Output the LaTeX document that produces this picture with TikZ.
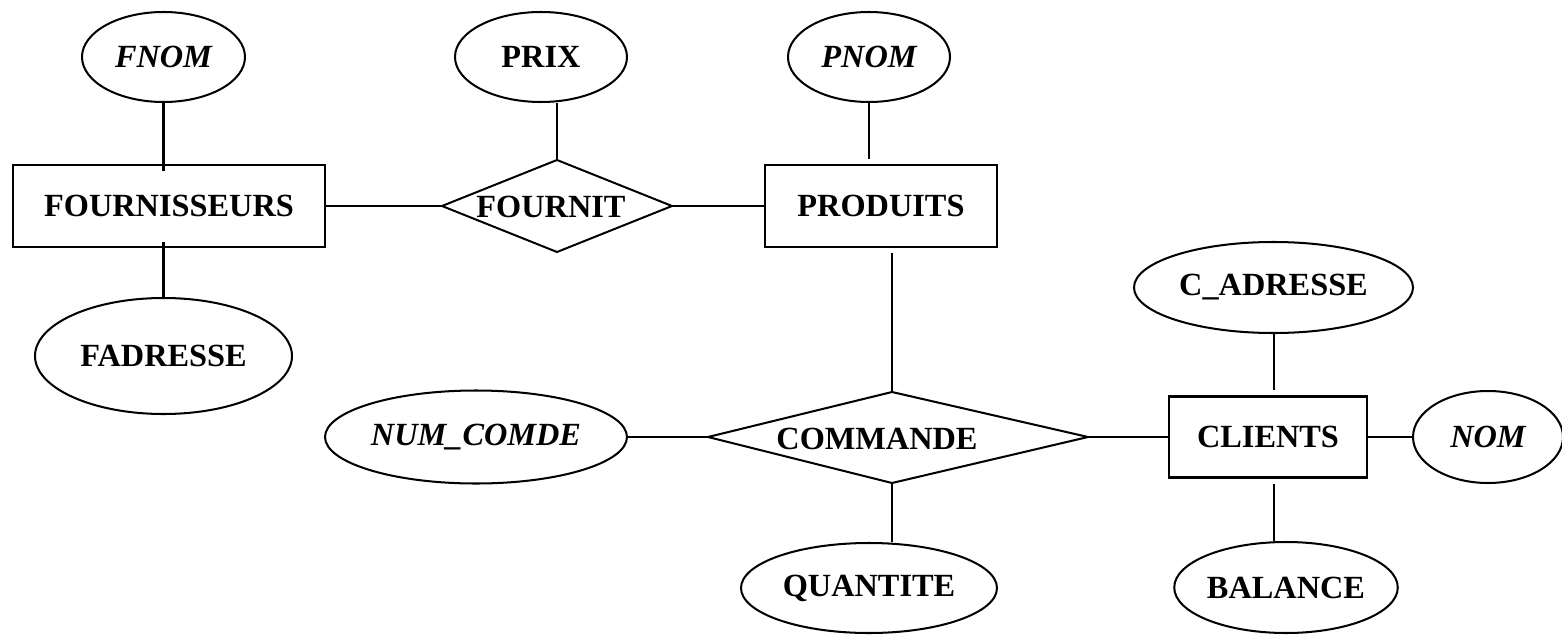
\documentclass[tikz,border=0pt]{standalone}
\usepackage{fontspec}
\setmainfont{Liberation Serif}
\usetikzlibrary{shapes.geometric}
\newdimen\pxu
\pxu=0.02cm
\begin{document}
\begin{tikzpicture}[x=0.02cm,y=-0.02cm,
  every node/.style={font=\fontsize{18.4pt}{22pt}\selectfont\bfseries, inner sep=0pt},
  entity/.style={draw, rectangle, line width=1.15pt},
  attr/.style={draw, ellipse, line width=1.15pt},
  key/.style={font=\fontsize{18.4pt}{22pt}\selectfont\bfseries\itshape},
  link/.style={line width=1.15pt},
  rel/.style={line width=1.15pt, line join=miter}]
\useasboundingbox (0,0) rectangle (1562,635);

% entities
\node[entity, minimum width=312\pxu, minimum height=82\pxu] (four) at (169,206) {FOURNISSEURS};
\node[entity, minimum width=232\pxu, minimum height=82\pxu] (prod) at (881,206) {PRODUITS};
\node[entity, minimum width=198\pxu, minimum height=81\pxu] (cli) at (1268,437) {CLIENTS};

% relationship FOURNIT
\coordinate (fn-w) at (442,206);
\coordinate (fn-n) at (557,160);
\coordinate (fn-e) at (672,206);
\coordinate (fn-s) at (557,252);
\draw[rel] (fn-w) -- (fn-n) -- (fn-e) -- (fn-s) -- cycle;
\node (fournit) at (551,207) {FOURNIT};

% relationship COMMANDE
\coordinate (cmd-w) at (708,437);
\coordinate (cmd-n) at (892,392);
\coordinate (cmd-e) at (1088,437);
\coordinate (cmd-s) at (892,483);
\draw[rel] (cmd-w) -- (cmd-n) -- (cmd-e) -- (cmd-s) -- cycle;
\node (commande) at (877,439) {COMMANDE};

% attributes
\node[attr, key, minimum width=163\pxu, minimum height=90\pxu] (fnom) at (163.5,57) {FNOM};
\node[attr, minimum width=172\pxu, minimum height=90\pxu] (prix) at (541,57) {PRIX};
\node[attr, key, minimum width=162\pxu, minimum height=90\pxu] (pnom) at (869,57) {PNOM};
\node[attr, minimum width=257\pxu, minimum height=116\pxu] (fadr) at (163.5,356) {FADRESSE};
\node[attr, key, minimum width=302\pxu, minimum height=93\pxu] (numc) at (476,437) {NUM\_COMDE};
\node[attr, minimum width=256\pxu, minimum height=90\pxu] (quant) at (869,588) {QUANTITE};
\node[attr, minimum width=279\pxu, minimum height=91\pxu] (cadr) at (1273.5,287.5) {C\_ADRESSE};
\node[attr, minimum width=208\pxu, minimum height=91\pxu] (bal) at (1286,587.5) {BALANCE};
\node[attr, key, minimum width=150\pxu, minimum height=92\pxu] (nom) at (1488,437) {NOM};

% connectors
\draw[link, shorten >=-4pt] (fnom.south) -- (fnom.south |- four.north);
\draw[link, shorten <=-3.4pt] (fadr.north |- four.south) -- (fadr.north);
\draw[link] (four.east) -- (fn-w);
\draw[link] (fn-n |- prix.south) -- (fn-n);
\draw[link] (fn-e) -- (prod.west);
\draw[link, shorten >=2.85pt] (pnom.south) -- (pnom.south |- prod.north);
\draw[link, shorten <=2.85pt] (cmd-n |- prod.south) -- (cmd-n);
\draw[link] (numc.east) -- (cmd-w);
\draw[link] (cmd-s) -- (cmd-s |- quant.north);
\draw[link] (cmd-e) -- (cli.west);
\draw[link, shorten >=2.85pt] (cadr.south) -- (cadr.south |- cli.north);
\draw[link, shorten <=3.4pt] (cli.south -| cadr.south) -- (bal.north -| cadr.south);
\draw[link] (cli.east) -- (nom.west);
\end{tikzpicture}
\end{document}
